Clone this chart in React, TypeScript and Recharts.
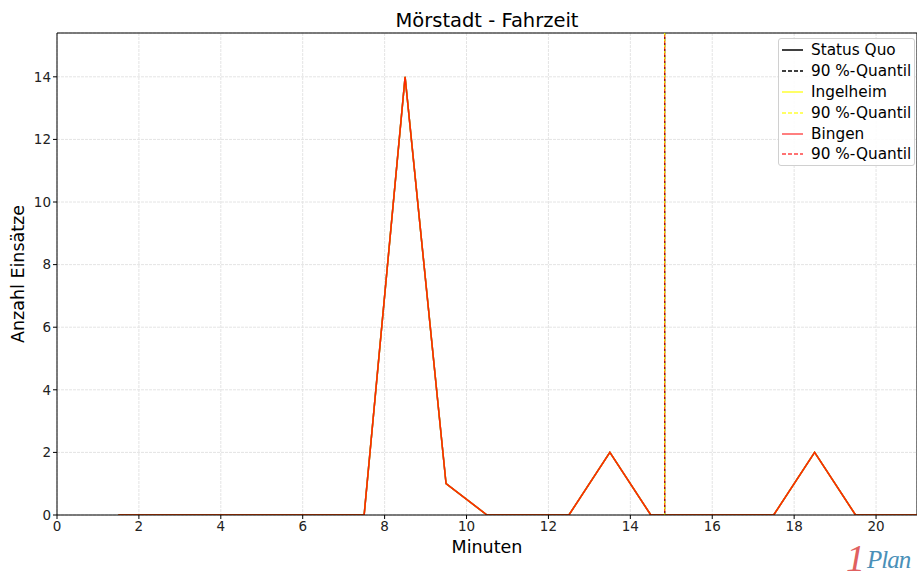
import React from "react";
import { LineChart, Line, XAxis, YAxis, CartesianGrid, ReferenceLine } from "recharts";

const minutes = [1.5, 2.5, 3.5, 4.5, 5.5, 6.5, 7.5, 8.5, 9.5, 10.5, 11.5, 12.5, 13.5, 14.5, 15.5, 16.5, 17.5, 18.5, 19.5, 20.5, 21.5];
const statusQuo = [0, 0, 0, 0, 0, 0, 0, 14, 1, 0, 0, 0, 2, 0, 0, 0, 0, 2, 0, 0, 0];
const ingelheim = [0, 0, 0, 0, 0, 0, 0, 14, 1, 0, 0, 0, 2, 0, 0, 0, 0, 2, 0, 0, 0];
const bingen = [0, 0, 0, 0, 0, 0, 0, 14, 1, 0, 0, 0, 2, 0, 0, 0, 0, 2, 0, 0, 0];
const quantile90 = 14.84;
const xTicks = [0, 2, 4, 6, 8, 10, 12, 14, 16, 18, 20];
const yTicks = [0, 2, 4, 6, 8, 10, 12, 14];

const data = minutes.map((m, i) => ({ m, sq: statusQuo[i], ing: ingelheim[i], bin: bingen[i] }));

const FONT = "DejaVu Sans, sans-serif";

const legendItems = [
  { label: "Status Quo", color: "#000000", dash: false },
  { label: "90 %-Quantil", color: "#000000", dash: true },
  { label: "Ingelheim", color: "#ffff33", dash: false },
  { label: "90 %-Quantil", color: "#ffff33", dash: true },
  { label: "Bingen", color: "#ff5555", dash: false },
  { label: "90 %-Quantil", color: "#ff4444", dash: true },
];

const LegendBox = () => (
  <div
    style={{
      position: "absolute",
      left: 778,
      top: 38,
      width: 137,
      height: 128,
      border: "1px solid #d0d0d0",
      borderRadius: 3,
      background: "rgba(255,255,255,0.85)",
      fontFamily: FONT,
      fontSize: 15.3,
      color: "#000",
      boxSizing: "border-box",
      paddingTop: 1,
    }}
  >
    {legendItems.map((it, i) => (
      <div key={i} style={{ display: "flex", alignItems: "center", height: 20.8 }}>
        <svg width={22} height={10} style={{ marginLeft: 3, marginRight: 7 }}>
          <line x1={0} y1={5} x2={21} y2={5} stroke={it.color} strokeWidth={1.5} strokeDasharray={it.dash ? "4 2" : undefined} />
        </svg>
        <span style={{ whiteSpace: "nowrap" }}>{it.label}</span>
      </div>
    ))}
  </div>
);

export default function App() {
  return (
    <div style={{ position: "absolute", left: 0, top: 0, width: 917, height: 583, background: "#fff" }}>
      <div
        style={{
          position: "absolute",
          left: 57,
          width: 860,
          top: 9,
          textAlign: "center",
          fontFamily: FONT,
          fontSize: 19.5,
          color: "#000",
        }}
      >
        Mörstadt - Fahrzeit
      </div>
      <LineChart width={917} height={583} data={data} margin={{ top: 33, right: 0, left: 0, bottom: 0 }}>
        <CartesianGrid stroke="#e4e4e4" strokeDasharray="3 1" />
        <XAxis
          dataKey="m"
          type="number"
          domain={[0, 21]}
          ticks={xTicks}
          allowDataOverflow
          height={68}
          stroke="#000"
          tick={{ fill: "#222", fontSize: 13.5, fontFamily: FONT }}
          tickSize={4}
          label={{ value: "Minuten", position: "insideTop", offset: 26, fill: "#000", fontSize: 17.5, fontFamily: FONT }}
        />
        <YAxis
          type="number"
          domain={[0, 15.4]}
          ticks={yTicks}
          allowDataOverflow
          width={57}
          stroke="#000"
          tick={{ fill: "#222", fontSize: 13.5, fontFamily: FONT }}
          tickSize={4}
          label={{ value: "Anzahl Einsätze", angle: -90, position: "insideLeft", offset: 18, fill: "#000", fontSize: 17.5, fontFamily: FONT, style: { textAnchor: "middle" } }}
        />
        <ReferenceLine y={15.4} stroke="#000" strokeWidth={1} />
        <ReferenceLine x={21} stroke="#000" strokeWidth={1} />
        <Line dataKey="sq" stroke="#000000" strokeWidth={1.5} dot={false} isAnimationActive={false} />
        <Line dataKey="ing" stroke="#ffff00" strokeWidth={1.5} dot={false} isAnimationActive={false} />
        <Line dataKey="bin" stroke="#ff0000" strokeOpacity={0.85} strokeWidth={1.5} dot={false} isAnimationActive={false} />
        <ReferenceLine x={quantile90} stroke="#000" strokeWidth={1.2} strokeDasharray="4 2" />
        <ReferenceLine x={quantile90} stroke="#ffff00" strokeWidth={1.2} strokeDasharray="4 2" strokeDashoffset={2} />
        <ReferenceLine x={quantile90} stroke="#ff0000" strokeOpacity={0.7} strokeWidth={1.2} strokeDasharray="4 2" strokeDashoffset={4} />
      </LineChart>
      <LegendBox />
      <div style={{ position: "absolute", left: 0, top: 0, fontFamily: "Liberation Serif, serif", fontStyle: "italic" }}>
        <span style={{ position: "absolute", left: 846, top: 537, fontSize: 38, lineHeight: "42px", color: "#e06060" }}>1</span>
        <span style={{ position: "absolute", left: 867, top: 544, fontSize: 25, lineHeight: "32px", color: "#4a90b8", letterSpacing: -1 }}>Plan</span>
      </div>
    </div>
  );
}
